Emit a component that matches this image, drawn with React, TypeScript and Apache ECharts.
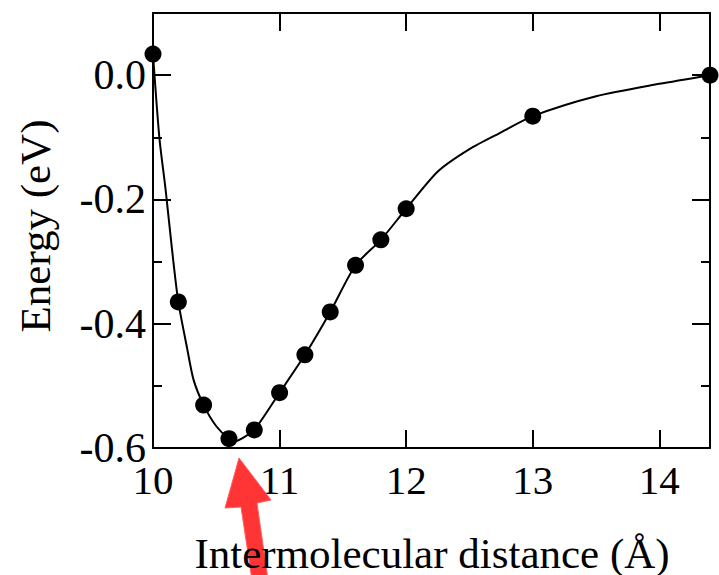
import React, { useEffect, useRef } from "react";
import * as echarts from "echarts";

// Computed points (filled circles)
const pointX = [10, 10.2, 10.4, 10.6, 10.8, 11.0, 11.2, 11.4, 11.6, 11.8, 12.0, 13.0, 14.4];
const pointY = [0.034, -0.365, -0.531, -0.585, -0.571, -0.511, -0.45, -0.381, -0.306, -0.265, -0.215, -0.066, 0.0];

// Fitted curve
const curveX = [10, 10.05, 10.1, 10.15, 10.2, 10.27, 10.32, 10.4, 10.5, 10.6, 10.65, 10.7, 10.8, 11.0, 11.2, 11.4, 11.6, 11.8, 12.0, 12.25, 12.5, 12.75, 13.0, 13.5, 14.0, 14.4];
const curveY = [0.034, -0.1, -0.185, -0.28, -0.365, -0.44, -0.49, -0.531, -0.565, -0.585, -0.589, -0.585, -0.571, -0.511, -0.45, -0.381, -0.306, -0.265, -0.215, -0.155, -0.119, -0.092, -0.066, -0.034, -0.014, 0.0];

const xTicks = [10, 11, 12, 13, 14];
const yTicks = [-0.6, -0.4, -0.2, 0.0];

const xName = "Intermolecular distance (Å)";
const yName = "Energy (eV)";

const FONT = "'Liberation Serif', 'Times New Roman', serif";

export default function App() {
  const ref = useRef<HTMLDivElement>(null);
  useEffect(() => {
    if (!ref.current) return;
    const chart = echarts.init(ref.current, null, { renderer: "svg" });
    const lineStyle = { color: "#000", width: 2 };
    const baseX = {
      type: "value" as const,
      min: 10,
      max: 14.4,
      interval: 1,
      splitLine: { show: false },
      axisLine: { show: true, onZero: false, lineStyle },
    };
    const baseY = {
      type: "value" as const,
      min: -0.6,
      max: 0.1,
      splitLine: { show: false },
    };
    chart.setOption({
      animation: false,
      backgroundColor: "#fff",
      grid: { left: 153, right: 9, top: 13, bottom: 127, containLabel: false },
      xAxis: [
        {
          ...baseX,
          position: "bottom",
          axisTick: { inside: true, length: 18, lineStyle },
          axisLabel: {
            show: true,
            margin: 9,
            fontSize: 41,
            lineHeight: 30,
            padding: [8, 0, 0, 0],
            fontFamily: FONT,
            color: "#000",
            showMaxLabel: false,
            formatter: (v: number) => (xTicks.includes(Math.round(v * 100) / 100) ? String(v) : ""),
          },
        },
        {
          ...baseX,
          position: "top",
          axisTick: { inside: true, length: 18, lineStyle },
          axisLabel: { show: false },
        },
      ],
      yAxis: [
        {
          ...baseY,
          interval: 0.2,
          position: "left",
          axisLine: { show: true, onZero: false, lineStyle },
          axisTick: { inside: true, length: 18, lineStyle },
          axisLabel: {
            show: true,
            margin: 7,
            fontSize: 42,
            lineHeight: 30,
            fontFamily: FONT,
            color: "#000",
            showMaxLabel: false,
            padding: [0, 0, 8, 0],
            formatter: (v: number) => {
              const r = Math.round(v * 10) / 10;
              return yTicks.includes(r) ? (r === 0 ? "0.0" : r.toFixed(1)) : "";
            },
          },
        },
        {
          ...baseY,
          interval: 0.1,
          position: "left",
          axisLine: { show: false, onZero: false },
          axisTick: { inside: true, length: 9, lineStyle },
          axisLabel: { show: false },
        },
        {
          ...baseY,
          interval: 0.2,
          position: "right",
          axisLine: { show: true, onZero: false, lineStyle },
          axisTick: { inside: true, length: 18, lineStyle },
          axisLabel: { show: false },
        },
        {
          ...baseY,
          interval: 0.1,
          position: "right",
          axisLine: { show: false, onZero: false },
          axisTick: { inside: true, length: 9, lineStyle },
          axisLabel: { show: false },
        },
      ],
      series: [
        {
          type: "line",
          xAxisIndex: 0,
          yAxisIndex: 0,
          data: curveX.map((x, i) => [x, curveY[i]]),
          smooth: 0.25,
          showSymbol: false,
          symbol: "none",
          lineStyle: { color: "#000", width: 2 },
          clip: false,
          z: 3,
        },
        {
          type: "scatter",
          xAxisIndex: 0,
          yAxisIndex: 0,
          data: pointX.map((x, i) => [x, pointY[i]]),
          symbol: "circle",
          symbolSize: 17,
          itemStyle: { color: "#000", opacity: 1 },
          clip: false,
          z: 4,
        },
      ],
      graphic: [
        {
          type: "polygon",
          z: 1,
          shape: {
            points: [
              [239, 458],
              [271, 500],
              [257, 503],
              [268, 580],
              [252, 580],
              [241, 507],
              [225, 508],
            ],
          },
          style: { fill: "#ff3535", stroke: "#ff6060", lineWidth: 1 },
        },
        {
          type: "text",
          z: 10,
          x: 432,
          y: 553,
          style: {
            text: xName,
            fontSize: 43,
            fontFamily: FONT,
            fill: "#000",
            align: "center",
            verticalAlign: "middle",
          },
        },
        {
          type: "text",
          z: 10,
          x: 35,
          y: 226,
          rotation: Math.PI / 2,
          style: {
            text: yName,
            fontSize: 43,
            fontFamily: FONT,
            fill: "#000",
            align: "center",
            verticalAlign: "middle",
          },
        },
      ],
    });
    return () => chart.dispose();
  }, []);
  return <div ref={ref} style={{ width: 719, height: 575, position: "absolute", left: 0, top: 0 }} />;
}
